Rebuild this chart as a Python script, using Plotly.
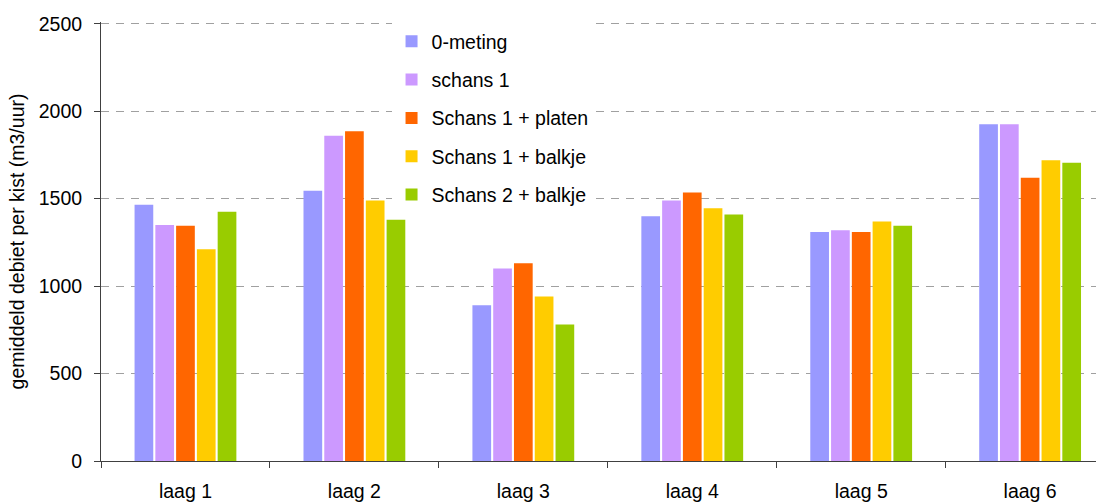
import plotly.graph_objects as go

categories = ["laag 1", "laag 2", "laag 3", "laag 4", "laag 5", "laag 6"]
series_names = ["0-meting", "schans 1", "Schans 1 + platen", "Schans 1 + balkje", "Schans 2 + balkje"]
nulmeting = [1465, 1545, 890, 1400, 1310, 1925]
schans1 = [1350, 1860, 1100, 1490, 1320, 1925]
schans1_platen = [1345, 1885, 1130, 1535, 1310, 1620]
schans1_balkje = [1210, 1490, 940, 1445, 1370, 1720]
schans2_balkje = [1425, 1380, 780, 1410, 1345, 1705]
colors = ["#9999FF", "#CC99FF", "#FF6600", "#FFCC00", "#99CC00"]

series_values = [nulmeting, schans1, schans1_platen, schans1_balkje, schans2_balkje]

fig = go.Figure()
for name, vals, col in zip(series_names, series_values, colors):
    fig.add_trace(go.Bar(
        x=categories, y=vals, name=name, legendgroup=name,
        marker=dict(color=col, line=dict(width=0)),
    ))

font = "Liberation Sans, Arial, sans-serif"
fig.update_layout(
    width=1096, height=503,
    margin=dict(l=101, r=0, t=22, b=42),
    paper_bgcolor="white", plot_bgcolor="white",
    barmode="group", bargap=0.385, bargroupgap=0.1,
    font=dict(family=font, size=19.5, color="black"),
    showlegend=True,
    legend=dict(
        x=0.292, y=1.0, xanchor="left", yanchor="top",
        bgcolor="white", font=dict(size=19.5, family=font),
        tracegroupgap=10, itemwidth=30,
    ),
    xaxis=dict(
        range=[-0.5, 5.39], showline=True, linecolor="#404040", linewidth=1,
        ticks="outside", tickson="boundaries", ticklen=6, tickcolor="#404040",
        showgrid=False, tickfont=dict(size=19.5), ticklabelstandoff=13,
    ),
    yaxis=dict(
        range=[0, 2510], tickvals=[0, 500, 1000, 1500, 2000, 2500],
        showline=True, linecolor="#404040", linewidth=1,
        ticks="outside", ticklen=6, tickcolor="#404040", ticklabelstandoff=8,
        showgrid=True, gridcolor="#A0A0A0", griddash="8px,7px", gridwidth=1,
        zeroline=False, tickfont=dict(size=19.5),
        title=dict(text="gemiddeld debiet per kist (m3/uur)", font=dict(size=19.5), standoff=8),
    ),
)

fig.write_html("out.html")
